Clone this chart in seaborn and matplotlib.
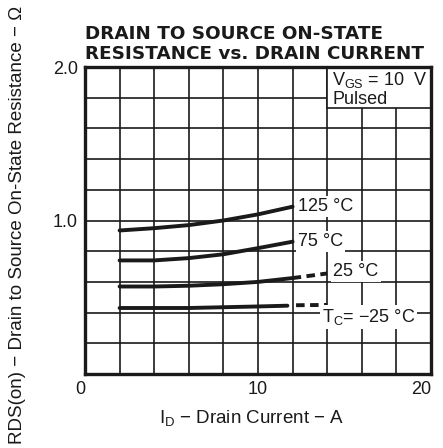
import matplotlib
matplotlib.use("Agg")
import matplotlib.pyplot as plt
import seaborn as sns
from matplotlib.patches import Rectangle
from matplotlib.ticker import MultipleLocator

sns.set_theme(style="white")
plt.rcParams['font.family'] = ['Liberation Sans', 'DejaVu Sans']
plt.rcParams['mathtext.default'] = 'regular'

# ---- data ----
current_a = [2, 4, 6, 8, 10, 12]
r_125 = [0.935, 0.95, 0.97, 1.0, 1.04, 1.09]
r_75 = [0.74, 0.74, 0.755, 0.78, 0.82, 0.862]
r_25 = [0.57, 0.57, 0.575, 0.585, 0.60, 0.625]
r_25_ext_x = [12, 14]
r_25_ext = [0.625, 0.655]
r_m25_x = [2, 6, 10, 11.7]
r_m25 = [0.43, 0.43, 0.44, 0.445]
r_m25_ext_x = [12.2, 14]
r_m25_ext = [0.448, 0.45]

x_ticks = [0, 10, 20]
x_tick_labels = ["0", "10", "20"]
y_ticks = [1.0, 2.0]
y_tick_labels = ["1.0", "2.0"]

ink = "#1a1a1a"
fs = 13

fig = plt.figure(figsize=(4.43, 4.48), dpi=100)
ax = fig.add_axes([85/443, 1-374/448, 346/443, 307/448])
ax.set_facecolor("white")

ax.set_xlim(0, 20)
ax.set_ylim(0, 2.0)
ax.xaxis.set_minor_locator(MultipleLocator(2))
ax.yaxis.set_minor_locator(MultipleLocator(0.2))
ax.set_xticks(x_ticks)
ax.set_xticklabels(x_tick_labels)
ax.set_yticks(y_ticks)
ax.set_yticklabels(y_tick_labels)
ax.tick_params(which='both', length=0, labelsize=fs, colors=ink)
ax.tick_params(axis='x', pad=5)
ax.tick_params(axis='y', pad=5)
xl = ax.get_xticklabels()
xl[0].set_ha('right')
xl[-1].set_ha('right')
ax.grid(True, which='both', color=ink, lw=1.2)
ax.set_axisbelow(True)
for s in ax.spines.values():
    s.set_color(ink)
    s.set_linewidth(2.4)

lw = 2.8
sns.lineplot(x=current_a, y=r_125, ax=ax, color=ink, lw=lw, zorder=3)
sns.lineplot(x=current_a, y=r_75, ax=ax, color=ink, lw=lw, zorder=3)
sns.lineplot(x=current_a, y=r_25, ax=ax, color=ink, lw=lw, zorder=3)
sns.lineplot(x=r_25_ext_x, y=r_25_ext, ax=ax, color=ink, lw=lw, ls=(0, (2.2, 1.4)), zorder=3)
sns.lineplot(x=r_m25_x, y=r_m25, ax=ax, color=ink, lw=lw, zorder=3)
sns.lineplot(x=r_m25_ext_x, y=r_m25_ext, ax=ax, color=ink, lw=lw, ls=(0, (2.2, 1.4)), zorder=3)

# condition box
ax.add_patch(Rectangle((14, 1.73), 6, 0.27, facecolor='white', edgecolor=ink, lw=1.2, zorder=2))
ax.text(14.3, 1.915, "V$_{GS}$ = 10  V", fontsize=fs, color=ink, va='center', ha='left', zorder=4)
ax.text(14.3, 1.79, "Pulsed", fontsize=fs, color=ink, va='center', ha='left', zorder=4)

bb = dict(facecolor='white', edgecolor='none', pad=1.5)
ax.text(12.3, 1.09, "125 °C", fontsize=fs, color=ink, va='center', ha='left', bbox=bb, zorder=4)
ax.text(12.3, 0.862, "75 °C", fontsize=fs, color=ink, va='center', ha='left', bbox=bb, zorder=4)
ax.text(14.35, 0.666, "25 °C", fontsize=fs, color=ink, va='center', ha='left', bbox=bb, zorder=4)
ax.text(13.7, 0.373, "T$_C$= −25 °C", fontsize=fs, color=ink, va='center', ha='left', bbox=bb, zorder=4)

fig.text(85/443, 1-25/448, "DRAIN TO SOURCE ON-STATE\nRESISTANCE vs. DRAIN CURRENT",
         family='DejaVu Sans', fontweight='bold', fontsize=13.2, color=ink,
         ha='left', va='top', linespacing=1.12)
fig.text(252/443, 1-418/448, "I$_D$ − Drain Current − A", fontsize=13.5, color=ink, ha='center', va='center')
fig.text(18/443, 1-225/448, "RDS(on) − Drain to Source On-State Resistance − Ω", fontsize=13.5,
         color=ink, ha='center', va='center', rotation=90)

fig.savefig("out.png", dpi=100, facecolor='white')
